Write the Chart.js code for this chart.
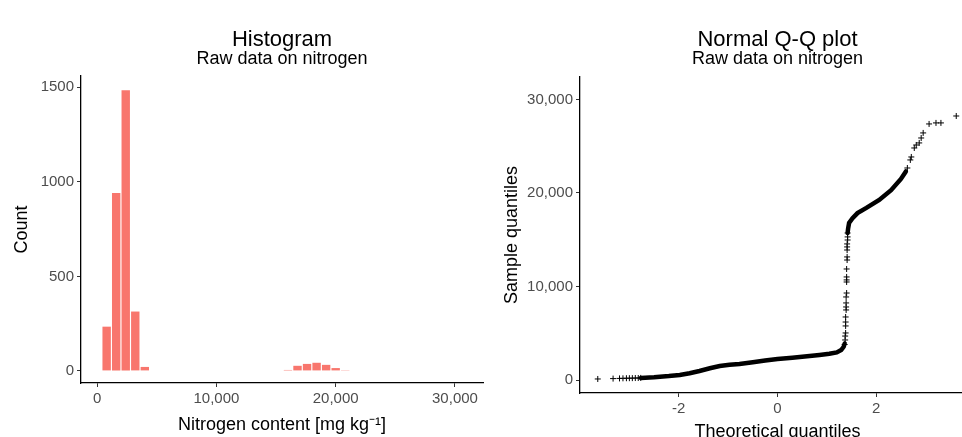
<!DOCTYPE html>
<html>
<head>
<meta charset="utf-8">
<script src="https://cdn.jsdelivr.net/npm/chart.js@4.4.1/dist/chart.umd.min.js"></script>
<style>
  html, body { margin: 0; padding: 0; background: #fff; overflow: hidden; }
  #wrap { position: relative; width: 962px; height: 437px; overflow: hidden; }
  canvas { position: absolute; top: 0; }
  #hist { left: 0; }
  #qq { left: 480px; }
</style>
</head>
<body>
<div id="wrap">
  <canvas id="hist" width="490" height="437"></canvas>
  <canvas id="qq" width="500" height="450"></canvas>
</div>
<script>
// histogram: bin centres [mg/kg] and counts
const histBinCenters = [800, 1600, 2400, 3200, 4000, 16000, 16800, 17600, 18400, 19200, 20000, 20800];
const histCounts = [234, 941, 1484, 314, 21, 5, 27, 37, 43, 32, 15, 4];
const histXTicks = [0, 10000, 20000, 30000];
const histYTicks = [0, 500, 1000, 1500];

// normal Q-Q plot, dense parts of the cloud (drawn as a thick band)
const qqLowTheo = [-2.77, -2.5, -2.2, -1.98, -1.78, -1.58, -1.37, -1.17, -0.97, -0.77, -0.5, -0.25, 0, 0.3, 0.6, 0.85, 1.05, 1.2, 1.29, 1.34, 1.36];
const qqLowSample = [225, 300, 420, 540, 720, 960, 1260, 1500, 1620, 1720, 1900, 2080, 2240, 2380, 2540, 2680, 2800, 2950, 3200, 3550, 3900];
const qqHighTheo = [1.42, 1.43, 1.45, 1.52, 1.62, 1.8, 2.06, 2.3, 2.5, 2.6];
const qqHighSample = [15720, 16200, 16800, 17300, 17850, 18400, 19250, 20300, 21500, 22300];

// sparse single points (tails and the jump)
const qqPointTheo = [
  -3.64, -3.33, -3.2, -3.13, -3.06, -3.0, -2.94, -2.88, -2.82, -2.77,
  1.36, 1.37, 1.37, 1.38, 1.38, 1.38, 1.38, 1.39, 1.39, 1.39, 1.39, 1.4, 1.4, 1.4, 1.4, 1.4, 1.41, 1.41, 1.41, 1.41, 1.41, 1.42, 1.42, 1.42,
  2.63, 2.69, 2.71, 2.77, 2.81, 2.87, 2.91, 2.95, 3.07, 3.21, 3.31, 3.62
];
const qqPointSample = [
  110, 150, 170, 180, 190, 195, 200, 210, 215, 225,
  3800, 4280, 4700, 5030, 5780, 6200, 6740, 7490, 7810, 8240, 8880, 9300, 10480, 10700, 11020, 11870, 12830, 13160, 13900, 14230, 14550, 14970, 15300, 15720,
  22670, 23530, 23850, 24810, 25130, 25350, 25880, 26420, 27380, 27490, 27490, 28230
];
const qqXTicks = [-2, 0, 2];
const qqYTicks = [0, 10000, 20000, 30000];

Chart.defaults.font.family = '"Liberation Sans", Arial, sans-serif';
Chart.defaults.color = '#000';

const pairs = (xs, ys) => xs.map((x, i) => ({ x, y: ys[i] }));
const withCommas = (v) => Number(v).toLocaleString('en-US');

function axis(opts) {
  return {
    type: 'linear',
    min: opts.min,
    max: opts.max,
    offset: false,
    afterBuildTicks: (s) => { s.ticks = opts.ticks.map((v) => ({ value: v })); },
    afterFit: opts.fit,
    grid: { display: true, drawOnChartArea: false, drawTicks: true, tickLength: 4, color: '#333', lineWidth: 1, offset: false },
    border: { display: true, color: '#000', width: 1.3 },
    ticks: { color: '#4d4d4d', font: { size: 15 }, padding: 3, maxRotation: 0, callback: opts.format },
    title: { display: true, text: opts.title, color: '#000', font: { size: 18 }, padding: opts.titlePad },
  };
}

function titles(main, sub, gap) {
  return {
    legend: { display: false },
    tooltip: { enabled: false },
    title: { display: true, text: main, fullSize: false, color: '#000', font: { size: 22, weight: 'normal', lineHeight: 0.9 }, padding: { top: 30, bottom: 0 } },
    subtitle: { display: true, text: sub, fullSize: false, color: '#000', font: { size: 18, weight: 'normal', lineHeight: 1 }, padding: { top: 0, bottom: gap } },
  };
}

new Chart(document.getElementById('hist'), {
  type: 'bar',
  data: {
    datasets: [{
      data: pairs(histBinCenters, histCounts),
      backgroundColor: '#F8766D',
      borderWidth: 0,
      barPercentage: 0.88,
      categoryPercentage: 1,
    }],
  },
  options: {
    responsive: false,
    animation: false,
    layout: { padding: { left: 0, right: 7, top: 0, bottom: 0 } },
    plugins: titles('Histogram', 'Raw data on nitrogen', 8.2),
    scales: {
      x: axis({ min: -1350, max: 32350, ticks: histXTicks, format: withCommas,
        fit: (s) => { s.height = 54; }, title: 'Nitrogen content [mg kg\u207B\u00B9]', titlePad: { top: 0, bottom: 1 } }),
      y: axis({ min: -64, max: 1560, ticks: histYTicks, format: (v) => String(v),
        fit: (s) => { s.width = 81; }, title: 'Count', titlePad: { top: 11, bottom: 0 } }),
    },
  },
});

new Chart(document.getElementById('qq'), {
  type: 'scatter',
  data: {
    datasets: [
      { data: pairs(qqLowTheo, qqLowSample), showLine: true, borderColor: '#000', borderWidth: 4.5, pointRadius: 0, borderCapStyle: 'round' },
      { data: pairs(qqHighTheo, qqHighSample), showLine: true, borderColor: '#000', borderWidth: 4.5, pointRadius: 0, borderCapStyle: 'round' },
      { data: pairs(qqPointTheo, qqPointSample), pointStyle: 'cross', pointRadius: 3, borderWidth: 1, borderColor: '#000', backgroundColor: '#000' },
    ],
  },
  options: {
    responsive: false,
    animation: false,
    layout: { padding: { left: 0, right: 4, top: 0, bottom: 0 } },
    plugins: titles('Normal Q-Q plot', 'Raw data on nitrogen', 9.2),
    scales: {
      x: axis({ min: -4, max: 4, ticks: qqXTicks, format: (v) => String(v),
        fit: (s) => { s.height = 57; }, title: 'Theoretical quantiles', titlePad: { top: 0, bottom: 7 } }),
      y: axis({ min: -1390, max: 32400, ticks: qqYTicks, format: withCommas,
        fit: (s) => { s.width = 100; }, title: 'Sample quantiles', titlePad: { top: 21, bottom: 0 } }),
    },
  },
});
</script>
</body>
</html>
